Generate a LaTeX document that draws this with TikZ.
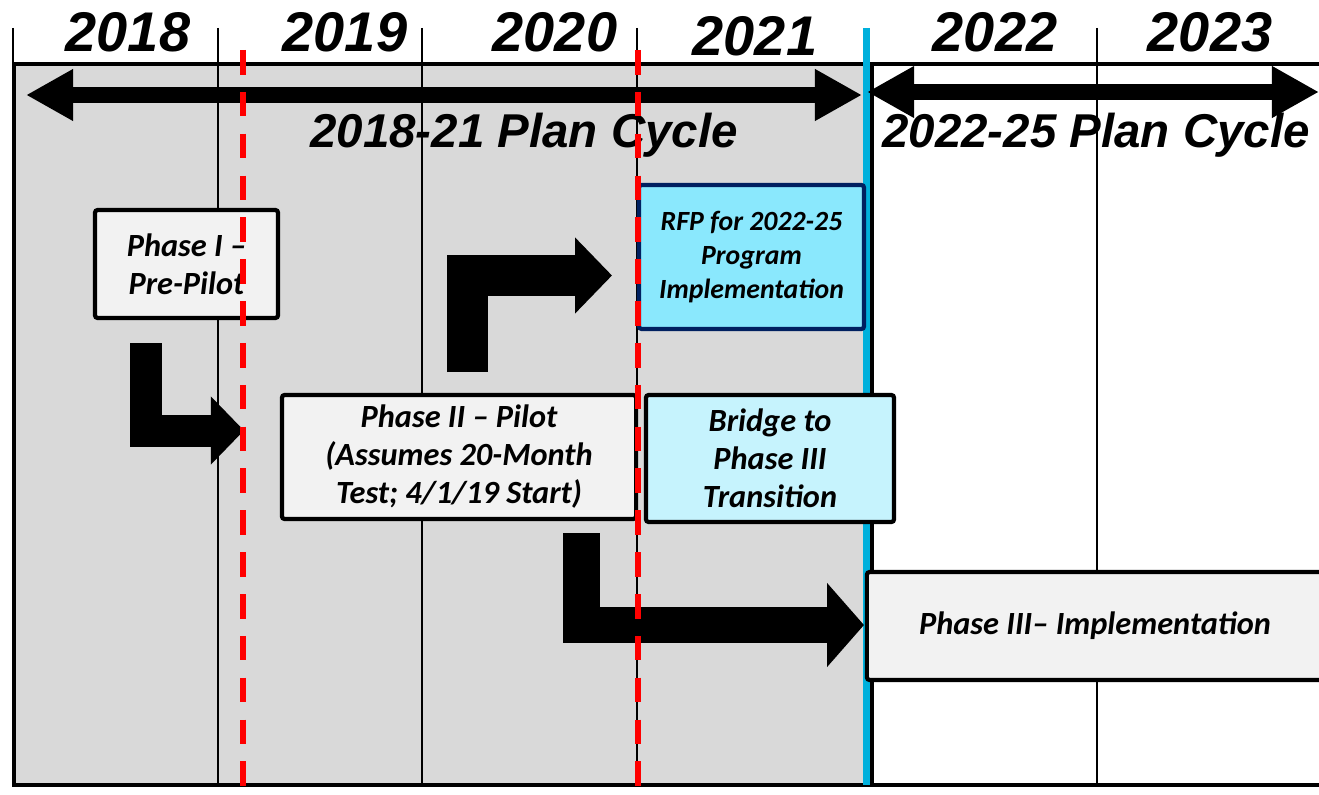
\documentclass[tikz,border=0pt]{standalone}
\usepackage{fontspec}
\setmainfont{Liberation Sans}
\newfontfamily\boxfont{Carlito}
\usetikzlibrary{arrows.meta}

\definecolor{cyclegray}{HTML}{D9D9D9}
\definecolor{boxgray}{HTML}{F2F2F2}
\definecolor{rfpcyan}{HTML}{8AE8FD}
\definecolor{bridgecyan}{HTML}{C6F3FD}
\definecolor{rfpnavy}{HTML}{002060}
\definecolor{splitblue}{HTML}{00B0DC}

\tikzset{
	phasebox/.style={draw, line width=1.2pt, rounded corners=0.8pt, fill=boxgray, align=center, inner sep=0pt,
		font=\boxfont\bfseries\itshape\fontsize{9.2}{10.8}\selectfont},
	yearlabel/.style={anchor=base, font=\rmfamily\bfseries\itshape\fontsize{15.9}{18}\selectfont},
	cyclelabel/.style={anchor=base, font=\rmfamily\bfseries\itshape\fontsize{13.5}{15}\selectfont},
	cyclearrow/.style={line width=4.4pt, {Triangle[length=13.4pt,width=13.8pt]}-{Triangle[length=13.4pt,width=13.8pt]}},
	milestone/.style={draw=red, line width=1.7pt, dash pattern=on 7pt off 4.9pt},
}

\begin{document}
\begin{tikzpicture}[x=0.01cm, y=-0.01cm]
	\useasboundingbox (0,0) rectangle (1319,794);
	\fill [cyclegray] (14,64) rectangle (870,785);
	\draw [line width=0.45pt] (13,28) -- (13,64);
	\foreach \x in {218, 422, 637, 1097}
		\draw [line width=0.45pt] (\x,28) -- (\x,785);
	\draw [line width=1.3pt] (1319,64) -- (14,64) -- (14,785) -- (1319,785);
	\draw [line width=1.1pt] (872,64) -- (872,785);
	\draw [splitblue, line width=2pt] (866,28) -- (866,785);

	\foreach \yr/\x/\y in {2018/128/52, 2019/345/52, 2020/555/52, 2021/755/56, 2022/995/52, 2023/1210/52}
		\node [yearlabel] (y\yr) at (\x,\y) {\yr};

	\coordinate (oldL) at (26,95);
	\coordinate (oldR) at (862,95);
	\coordinate (newL) at (867,92);
	\coordinate (newR) at (1319,92);
	\draw [cyclearrow] (oldL) -- (oldR);
	\draw [cyclearrow] (newL) -- (newR);
	\node [cyclelabel] (oldcycle) at (524,147) {2018-21 Plan Cycle};
	\node [cyclelabel] (newcycle) at (1096,147) {2022-25 Plan Cycle};

	\node [phasebox, minimum width=1.83cm, minimum height=1.08cm] (phaseI) at (186.5,264) {Phase I –\\Pre-Pilot};
	\node [phasebox, minimum width=3.54cm, minimum height=1.24cm] (phaseII) at (459,457) {Phase II – Pilot\\(Assumes 20-Month\\Test; 4/1/19 Start)};
	\node [phasebox, fill=rfpcyan, draw=rfpnavy, minimum width=2.25cm, minimum height=1.44cm,
		font=\boxfont\bfseries\itshape\fontsize{7.9}{9.6}\selectfont] (rfp) at (751.5,257) {RFP for 2022-25\\Program\\Implementation};
	\node [phasebox, fill=bridgecyan, minimum width=2.48cm, minimum height=1.27cm] (bridge) at (770,458.5) {Bridge to\\Phase III\\Transition};
	\node [phasebox, minimum width=4.56cm, minimum height=1.08cm] (phaseIII) at (1095,626) {Phase III– Implementation};

	\coordinate (a1) at (146,343);
	\coordinate (b1) at (244,430.5);
	\coordinate (a2) at (467.5,372);
	\coordinate (b2) at (612,275.5);
	\coordinate (a3) at (581.5,533);
	\coordinate (b3) at (864,625);
	\draw [line width=9.1pt, -{Triangle[length=9.4pt,width=18.8pt]}] (a1) |- (b1);
	\draw [line width=11.7pt, -{Triangle[length=10.5pt,width=21pt]}] (a2) |- (b2);
	\draw [line width=10.4pt, -{Triangle[length=10.5pt,width=23.3pt]}] (a3) |- (b3);

	\draw [milestone] (243,50) -- (243,794);
	\draw [milestone] (638,50) -- (638,794);
\end{tikzpicture}
\end{document}
